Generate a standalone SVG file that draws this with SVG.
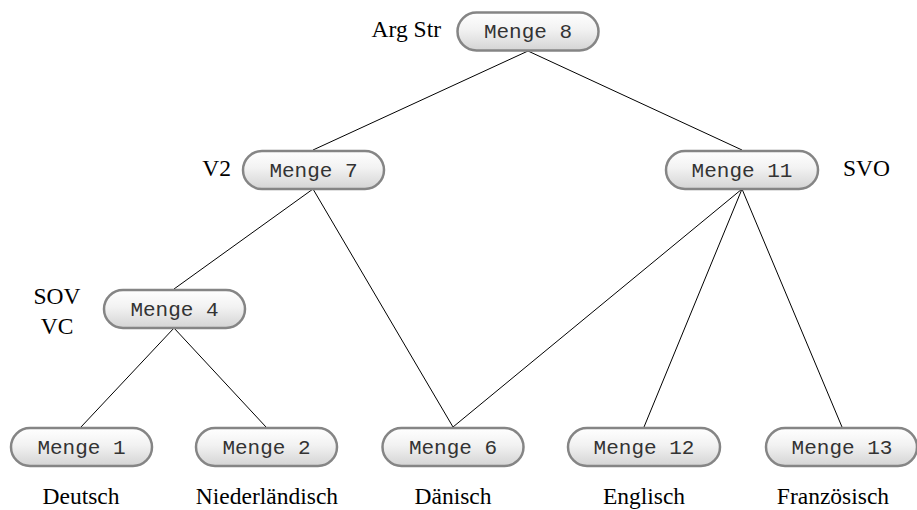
<svg xmlns="http://www.w3.org/2000/svg" width="917" height="510" viewBox="0 0 917 510">
  <defs>
    <linearGradient id="pill" x1="0" y1="0" x2="0" y2="1">
      <stop offset="0" stop-color="#ffffff"/>
      <stop offset="0.45" stop-color="#f2f2f2"/>
      <stop offset="1" stop-color="#d4d4d4"/>
    </linearGradient>
  </defs>
  <style>
    .box { fill: url(#pill); stroke: #858585; stroke-width: 2.5; }
    .set { font-family: "Liberation Mono", "Courier New", monospace; font-size: 21px; fill: #333; text-anchor: middle; }
    .lbl { font-family: "Liberation Serif", "Times New Roman", serif; font-size: 23.5px; fill: #000; }
    .mid { text-anchor: middle; }
    .end { text-anchor: end; }
    #edges line { stroke: #000; stroke-width: 1; }
  </style>
  <rect width="917" height="510" fill="#ffffff"/>

  <!-- tree edges: bottom centre of parent to top centre of child -->
  <g id="edges">
    <line x1="528" y1="51" x2="313" y2="150"/>
    <line x1="528" y1="51" x2="742" y2="150"/>
    <line x1="313" y1="189" x2="174" y2="289"/>
    <line x1="313" y1="189" x2="453" y2="427"/>
    <line x1="742" y1="189" x2="453" y2="427"/>
    <line x1="742" y1="189" x2="644" y2="427"/>
    <line x1="742" y1="189" x2="842" y2="427"/>
    <line x1="174" y1="328" x2="81" y2="427"/>
    <line x1="174" y1="328" x2="266" y2="427"/>
  </g>

  <g id="menge8">
    <rect class="box" x="457.5" y="12.5" width="141" height="38" rx="19"/>
    <text class="set" x="528" y="38">Menge 8</text>
  </g>
  <g id="menge7">
    <rect class="box" x="243" y="151" width="141" height="38" rx="19"/>
    <text class="set" x="313.5" y="176.5">Menge 7</text>
  </g>
  <g id="menge11">
    <rect class="box" x="666" y="151" width="152" height="38" rx="19"/>
    <text class="set" x="742" y="176.5">Menge 11</text>
  </g>
  <g id="menge4">
    <rect class="box" x="104" y="290" width="141" height="38" rx="19"/>
    <text class="set" x="174.5" y="315.5">Menge 4</text>
  </g>
  <g id="menge1">
    <rect class="box" x="11" y="428" width="141" height="38" rx="19"/>
    <text class="set" x="81.5" y="453.5">Menge 1</text>
  </g>
  <g id="menge2">
    <rect class="box" x="196" y="428" width="141" height="38" rx="19"/>
    <text class="set" x="266.5" y="453.5">Menge 2</text>
  </g>
  <g id="menge6">
    <rect class="box" x="382.5" y="428" width="141" height="38" rx="19"/>
    <text class="set" x="453" y="453.5">Menge 6</text>
  </g>
  <g id="menge12">
    <rect class="box" x="568" y="428" width="152" height="38" rx="19"/>
    <text class="set" x="644" y="453.5">Menge 12</text>
  </g>
  <g id="menge13">
    <rect class="box" x="766" y="428" width="151" height="38" rx="19"/>
    <text class="set" x="842" y="453.5">Menge 13</text>
  </g>

  <!-- feature labels -->
  <g id="labels">
    <text class="lbl end" x="441" y="37">Arg Str</text>
    <text class="lbl end" x="231" y="176">V2</text>
    <text class="lbl" x="843" y="176">SVO</text>
    <text class="lbl mid" x="57" y="304">SOV</text>
    <text class="lbl mid" x="57" y="334">VC</text>
    <text class="lbl mid" x="81" y="504">Deutsch</text>
    <text class="lbl mid" x="267" y="504">Niederländisch</text>
    <text class="lbl mid" x="453" y="504">Dänisch</text>
    <text class="lbl mid" x="644" y="504">Englisch</text>
    <text class="lbl mid" x="833" y="504">Französisch</text>
  </g>
</svg>
